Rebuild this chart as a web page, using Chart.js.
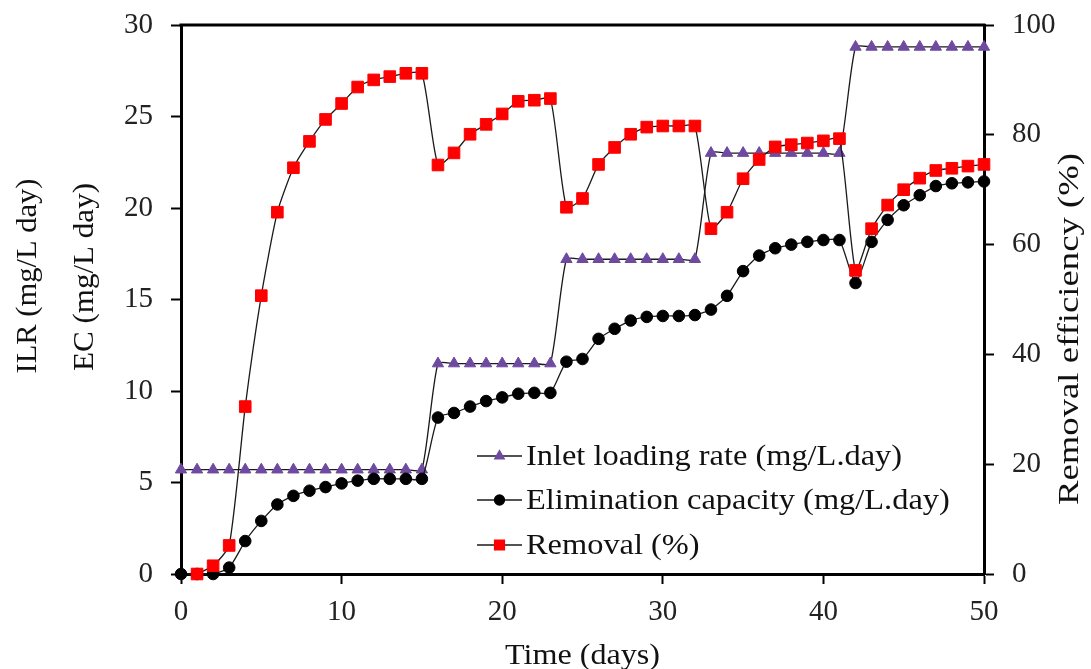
<!DOCTYPE html>
<html>
<head>
<meta charset="utf-8">
<script src="https://cdn.jsdelivr.net/npm/chart.js@4.4.1/dist/chart.umd.min.js"></script>
<style>
  html, body { margin: 0; padding: 0; background: #fff; }
  #wrap { width: 1091px; height: 669px; }
</style>
</head>
<body>
<div id="wrap"><canvas id="chart" width="1091" height="669"></canvas></div>
<script>
// days of operation
const days = [0, 1, 2, 3, 4, 5, 6, 7, 8, 9, 10, 11, 12, 13, 14, 15, 16, 17, 18, 19, 20,
  21, 22, 23, 24, 25, 26, 27, 28, 29, 30, 31, 32, 33, 34, 35, 36, 37, 38, 39, 40,
  41, 42, 43, 44, 45, 46, 47, 48, 49, 50];

// inlet loading rate (mg/L.day)
const ilr = [5.7, 5.7, 5.7, 5.7, 5.7, 5.7, 5.7, 5.7, 5.7, 5.7, 5.7, 5.7, 5.7, 5.7, 5.7, 5.7,
  11.5, 11.5, 11.5, 11.5, 11.5, 11.5, 11.5, 11.5,
  17.2, 17.2, 17.2, 17.2, 17.2, 17.2, 17.2, 17.2, 17.2,
  23.0, 23.0, 23.0, 23.0, 23.0, 23.0, 23.0, 23.0, 23.0,
  28.8, 28.8, 28.8, 28.8, 28.8, 28.8, 28.8, 28.8, 28.8];

// elimination capacity (mg/L.day)
const ec = [0, 0, 0, 0.35, 1.8, 2.9, 3.8, 4.27, 4.55, 4.75, 4.95, 5.1, 5.2, 5.2, 5.2, 5.2,
  8.55, 8.8, 9.15, 9.45, 9.65, 9.85, 9.9, 9.9,
  11.6, 11.75, 12.85, 13.4, 13.85, 14.05, 14.1, 14.1, 14.15,
  14.45, 15.2, 16.55, 17.4, 17.8, 18.0, 18.15, 18.25, 18.25,
  15.9, 18.15, 19.35, 20.15, 20.7, 21.2, 21.35, 21.4, 21.45];

// removal efficiency (%)
const removal = [null, 0, 1.5, 5.2, 30.5, 50.7, 65.9, 74.0, 78.8, 82.8, 85.7, 88.7, 90.0, 90.6, 91.2, 91.2,
  74.5, 76.7, 80.1, 81.9, 83.8, 86.1, 86.3, 86.6,
  66.8, 68.4, 74.6, 77.7, 80.1, 81.4, 81.6, 81.6, 81.6,
  62.9, 65.9, 72.0, 75.5, 77.8, 78.2, 78.5, 78.9, 79.3,
  55.3, 62.9, 67.2, 70.0, 72.1, 73.5, 73.9, 74.3, 74.6];

const xTicks = [0, 10, 20, 30, 40, 50];
const leftTicks = [0, 5, 10, 15, 20, 25, 30];
const rightTicks = [0, 20, 40, 60, 80, 100];

const serif = "'Liberation Serif', 'Times New Roman', serif";
const lineColor = '#1a1a1a';
const purple = '#6E4AA0';
const red = '#FF0000';

const pts = vals => days.map((d, i) => ({ x: d, y: vals[i] }));

// axis titles, top border and the in-plot legend
const decorations = {
  id: 'decorations',
  afterDraw(chart) {
    const { ctx, chartArea: a } = chart;
    ctx.save();
    ctx.strokeStyle = '#000';
    ctx.lineWidth = 3;
    ctx.beginPath();
    ctx.moveTo(a.left - 1.5, a.top);
    ctx.lineTo(a.right + 1.5, a.top);
    ctx.stroke();

    ctx.fillStyle = '#111';
    ctx.font = '30px ' + serif;
    ctx.textAlign = 'center';
    ctx.textBaseline = 'middle';
    // text stretched to the length it has in the original figure
    const title = (txt, x, y, len, rot) => {
      ctx.save();
      ctx.translate(x, y);
      if (rot) ctx.rotate(-Math.PI / 2);
      ctx.scale(len / ctx.measureText(txt).width, 1);
      ctx.fillText(txt, 0, 0);
      ctx.restore();
    };
    title('ILR (mg/L day)', 28, 276, 195, true);
    title('EC (mg/L day)', 85, 277, 188, true);
    title('Removal efficiency (%)', 1070, 329, 352, true);
    title('Time (days)', (a.left + a.right) / 2, 656, 155, false);

    // legend
    const rows = [
      { ds: chart.data.datasets[0], y: 456, r: 5.5 },
      { ds: chart.data.datasets[1], y: 500, r: 5 },
      { ds: chart.data.datasets[2], y: 545, r: 7 }
    ];
    ctx.textAlign = 'left';
    rows.forEach(row => {
      ctx.strokeStyle = lineColor;
      ctx.lineWidth = 1.3;
      ctx.beginPath();
      ctx.moveTo(477, row.y);
      ctx.lineTo(522, row.y);
      ctx.stroke();
      ctx.fillStyle = row.ds.pointBackgroundColor;
      ctx.strokeStyle = row.ds.pointBorderColor;
      Chart.helpers.drawPoint(ctx, {
        pointStyle: row.ds.pointStyle, radius: row.r, rotation: 0, borderWidth: 1
      }, 499.5, row.y);
      ctx.fillStyle = '#111';
      ctx.save();
      ctx.translate(526, row.y + 1);
      ctx.scale(1.08, 1);
      ctx.fillText(row.ds.label, 0, 0);
      ctx.restore();
    });
    ctx.restore();
  }
};

const tickFont = { family: serif, size: 29 };
const gridOpts = { drawOnChartArea: false, drawTicks: true, tickLength: 10, tickWidth: 2, tickColor: '#000' };
const borderOpts = { display: true, color: '#000', width: 3 };

// fixed axis sizes so the plot box sits where it does in the figure
const fitX = s => { s.height = 95; s.paddingLeft = 0; s.paddingRight = 0; };
const fitY = w => s => { s.width = w; s.paddingTop = 0; s.paddingBottom = 0; };

new Chart(document.getElementById('chart'), {
  type: 'line',
  data: {
    datasets: [
      {
        label: 'Inlet loading rate (mg/L.day)',
        data: pts(ilr),
        yAxisID: 'y',
        borderColor: lineColor,
        borderWidth: 1.3,
        pointStyle: 'triangle',
        pointRadius: 6.5,
        pointBackgroundColor: purple,
        pointBorderColor: purple,
        pointBorderWidth: 1,
        tension: 0.2,
        clip: false,
        order: 2
      },
      {
        label: 'Elimination capacity (mg/L.day)',
        data: pts(ec),
        yAxisID: 'y',
        borderColor: lineColor,
        borderWidth: 1.3,
        pointStyle: 'circle',
        pointRadius: 5.8,
        pointBackgroundColor: '#000',
        pointBorderColor: '#000',
        pointBorderWidth: 1,
        tension: 0.2,
        clip: false,
        order: 1
      },
      {
        label: 'Removal (%)',
        data: pts(removal),
        yAxisID: 'y2',
        borderColor: lineColor,
        borderWidth: 1.3,
        pointStyle: 'rect',
        pointRadius: 8.2,
        pointBackgroundColor: red,
        pointBorderColor: red,
        pointBorderWidth: 1,
        tension: 0.2,
        clip: false,
        order: 0
      }
    ]
  },
  options: {
    responsive: false,
    animation: false,
    devicePixelRatio: 1,
    layout: { padding: { top: 25, left: 0, right: 0, bottom: 0 } },
    plugins: { legend: { display: false }, tooltip: { enabled: false } },
    scales: {
      x: {
        type: 'linear', min: 0, max: 50,
        afterBuildTicks: s => { s.ticks = xTicks.map(v => ({ value: v })); },
        afterFit: fitX,
        ticks: { font: tickFont, color: '#222', padding: 11, maxRotation: 0 },
        grid: gridOpts,
        border: borderOpts
      },
      y: {
        position: 'left', min: 0, max: 30,
        afterBuildTicks: s => { s.ticks = leftTicks.map(v => ({ value: v })); },
        afterFit: fitY(181),
        ticks: { font: tickFont, color: '#222', padding: 18 },
        grid: gridOpts,
        border: borderOpts
      },
      y2: {
        position: 'right', min: 0, max: 100,
        afterBuildTicks: s => { s.ticks = rightTicks.map(v => ({ value: v })); },
        afterFit: fitY(107),
        ticks: { font: tickFont, color: '#222', padding: 18 },
        grid: gridOpts,
        border: borderOpts
      }
    }
  },
  plugins: [decorations]
});
</script>
</body>
</html>
